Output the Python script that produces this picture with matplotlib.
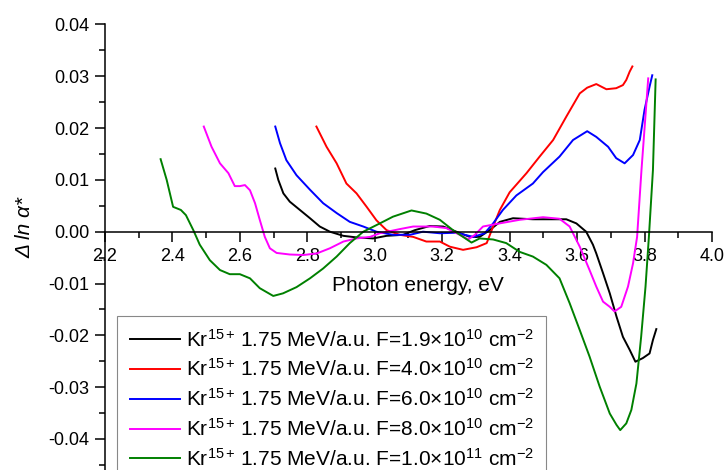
import matplotlib
matplotlib.use('Agg')
import matplotlib.pyplot as plt
from matplotlib.ticker import MultipleLocator, FormatStrFormatter

plt.rcParams['font.family'] = ['Liberation Sans', 'DejaVu Sans']
plt.rcParams['mathtext.fontset'] = 'custom'
plt.rcParams['mathtext.rm'] = 'Liberation Sans'
plt.rcParams['mathtext.it'] = 'Liberation Sans:italic'
plt.rcParams['mathtext.default'] = 'regular'

# photon energy (eV) / delta ln alpha*
e_19 = [2.705, 2.714, 2.729, 2.748, 2.778, 2.808, 2.837, 2.867, 2.907, 2.946, 2.995, 3.035, 3.084,
        3.119, 3.163, 3.203, 3.242, 3.282, 3.311, 3.341, 3.371, 3.410, 3.469, 3.529, 3.568, 3.598,
        3.627, 3.647, 3.657, 3.677, 3.697, 3.717, 3.736, 3.756, 3.773, 3.795, 3.815, 3.825, 3.835]
d_19 = [0.0122, 0.0100, 0.0074, 0.0058, 0.0042, 0.0026, 0.0010, 0.0000, -0.0008, -0.0011, -0.0013,
        -0.0008, -0.0006, 0.0003, 0.0011, 0.0010, 0.0000, -0.0010, -0.0010, 0.0003, 0.0019, 0.0026,
        0.0024, 0.0024, 0.0024, 0.0016, 0.0000, -0.0025, -0.0042, -0.0080, -0.0119, -0.0164, -0.0203,
        -0.0228, -0.0251, -0.0244, -0.0235, -0.0209, -0.0188]

e_40 = [2.827, 2.857, 2.887, 2.916, 2.946, 2.976, 3.005, 3.035, 3.074, 3.114, 3.153, 3.193, 3.223,
        3.262, 3.302, 3.332, 3.351, 3.371, 3.400, 3.450, 3.489, 3.529, 3.568, 3.608, 3.630, 3.657,
        3.687, 3.716, 3.736, 3.746, 3.756, 3.764]
d_40 = [0.0203, 0.0164, 0.0132, 0.0093, 0.0074, 0.0048, 0.0022, 0.0003, -0.0006, -0.0010, -0.0019,
        -0.0019, -0.0029, -0.0035, -0.0030, -0.0022, 0.0010, 0.0042, 0.0076, 0.0113, 0.0145, 0.0177,
        0.0222, 0.0267, 0.0278, 0.0285, 0.0275, 0.0277, 0.0283, 0.0293, 0.0309, 0.0319]

e_60 = [2.705, 2.719, 2.738, 2.768, 2.808, 2.847, 2.887, 2.926, 2.966, 3.005, 3.054, 3.104, 3.143,
        3.193, 3.242, 3.292, 3.326, 3.351, 3.380, 3.420, 3.469, 3.499, 3.548, 3.588, 3.630, 3.657,
        3.692, 3.716, 3.741, 3.766, 3.786, 3.800, 3.815, 3.823]
d_60 = [0.0203, 0.0171, 0.0138, 0.0109, 0.0081, 0.0055, 0.0036, 0.0019, 0.0010, 0.0000, -0.0006,
        -0.0006, 0.0000, -0.0003, -0.0002, -0.0010, -0.0003, 0.0016, 0.0042, 0.0070, 0.0093, 0.0115,
        0.0145, 0.0177, 0.0194, 0.0183, 0.0164, 0.0142, 0.0132, 0.0148, 0.0177, 0.0235, 0.0280, 0.0302]

e_80 = [2.493, 2.516, 2.541, 2.566, 2.585, 2.600, 2.615, 2.630, 2.645, 2.659, 2.674, 2.689, 2.709,
        2.748, 2.788, 2.828, 2.867, 2.907, 2.946, 2.986, 3.015, 3.074, 3.114, 3.173, 3.212, 3.252,
        3.277, 3.297, 3.321, 3.370, 3.430, 3.499, 3.548, 3.578, 3.608, 3.637, 3.657, 3.677, 3.697,
        3.711, 3.731, 3.751, 3.766, 3.778, 3.791, 3.811]
d_80 = [0.0203, 0.0164, 0.0132, 0.0113, 0.0088, 0.0088, 0.0090, 0.0080, 0.0055, 0.0023, -0.0010,
        -0.0032, -0.0041, -0.0044, -0.0045, -0.0042, -0.0032, -0.0019, -0.0013, -0.0010, -0.0003,
        0.0005, 0.0010, 0.0010, 0.0007, -0.0006, -0.0015, -0.0006, 0.0010, 0.0016, 0.0023, 0.0028,
        0.0025, 0.0010, -0.0029, -0.0074, -0.0106, -0.0135, -0.0145, -0.0154, -0.0145, -0.0106,
        -0.0061, -0.0010, 0.0119, 0.0296]

e_100 = [2.365, 2.383, 2.402, 2.425, 2.440, 2.462, 2.481, 2.511, 2.541, 2.570, 2.600, 2.630, 2.659,
         2.699, 2.728, 2.768, 2.808, 2.847, 2.887, 2.926, 2.966, 3.015, 3.054, 3.109, 3.153, 3.193,
         3.232, 3.262, 3.287, 3.311, 3.351, 3.390, 3.430, 3.469, 3.509, 3.548, 3.578, 3.608, 3.637,
         3.667, 3.697, 3.717, 3.728, 3.746, 3.761, 3.776, 3.790, 3.803, 3.813, 3.825, 3.833]
d_100 = [0.0140, 0.0100, 0.0048, 0.0042, 0.0032, 0.0003, -0.0025, -0.0055, -0.0074, -0.0082, -0.0082,
         -0.0090, -0.0109, -0.0124, -0.0119, -0.0107, -0.0090, -0.0071, -0.0048, -0.0022, 0.0000,
         0.0016, 0.0029, 0.0041, 0.0035, 0.0023, 0.0003, -0.0010, -0.0021, -0.0013, -0.0015, -0.0022,
         -0.0039, -0.0048, -0.0064, -0.0090, -0.0138, -0.0190, -0.0241, -0.0299, -0.0351, -0.0373,
         -0.0383, -0.0370, -0.0344, -0.0293, -0.0203, -0.0106, -0.0010, 0.0119, 0.0294]

fluences = [r'1.9$\times$10$^{10}$', r'4.0$\times$10$^{10}$', r'6.0$\times$10$^{10}$',
            r'8.0$\times$10$^{10}$', r'1.0$\times$10$^{11}$']
colors = ['black', 'red', 'blue', 'magenta', 'green']

fig = plt.figure(figsize=(7.25, 4.7), dpi=100)
ax = fig.add_axes([0.1448, 0.0, 0.8372, 0.9479])

series = [(e_19, d_19), (e_40, d_40), (e_60, d_60), (e_80, d_80), (e_100, d_100)]
for (e, d), f, c in zip(series, fluences, colors):
    ax.plot(e, d, color=c, lw=1.4,
            label=r'Kr$^{15+}\,$1.75 MeV/a.u. F=' + f + r' cm$^{-2}$')

ax.set_xlim(2.2, 4.0)
ax.set_ylim(-0.046, 0.04)

ax.spines['top'].set_visible(False)
ax.spines['right'].set_visible(False)
ax.spines['bottom'].set_position(('data', 0))
for s in ['left', 'bottom']:
    ax.spines[s].set_linewidth(1.1)

ax.xaxis.set_major_locator(MultipleLocator(0.2))
ax.xaxis.set_minor_locator(MultipleLocator(0.1))
ax.xaxis.set_major_formatter(FormatStrFormatter('%.1f'))
ax.yaxis.set_major_locator(MultipleLocator(0.01))
ax.yaxis.set_minor_locator(MultipleLocator(0.005))
ax.yaxis.set_major_formatter(FormatStrFormatter('%.2f'))
ax.tick_params(which='major', direction='out', length=7, width=1.1, labelsize=13, pad=4)
ax.tick_params(which='minor', direction='out', length=4.5, width=1.1)
ax.tick_params(axis='x', which='major', pad=5)

ax.set_xlabel('Photon energy, eV', fontsize=15)
ax.xaxis.set_label_coords(0.515, 0.436)
ax.set_ylabel(r'Δ ln α*', fontsize=15, style='italic')
ax.yaxis.set_label_coords(-0.117, 0.545)

leg = ax.legend(loc='upper left', bbox_to_anchor=(117 / 725, 1 - 316 / 470),
                bbox_transform=fig.transFigure, borderaxespad=0, fontsize=15,
                handlelength=2.4, handletextpad=0.3, labelspacing=0.38, borderpad=0.6,
                fancybox=False, framealpha=1)
leg.get_frame().set_edgecolor('#888888')
leg.get_frame().set_linewidth(0.8)

fig.savefig('out.png', dpi=100)
